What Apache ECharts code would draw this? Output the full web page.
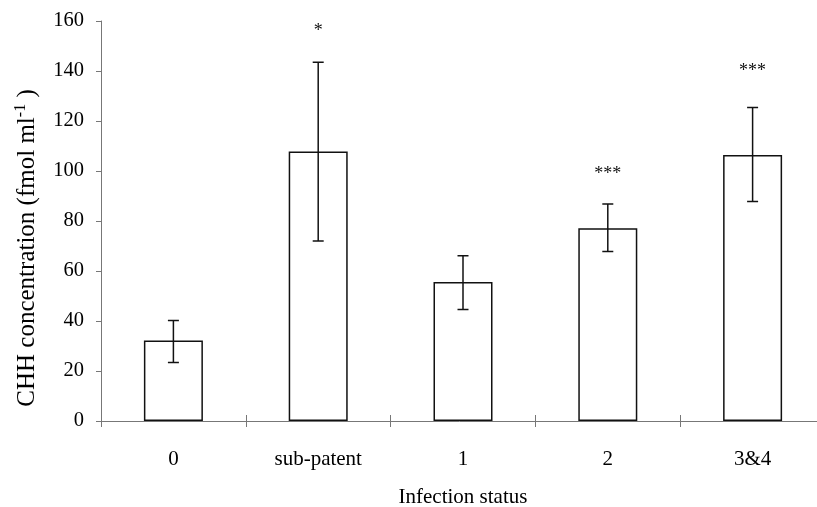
<!DOCTYPE html>
<html>
<head>
<meta charset="utf-8">
<script src="https://cdn.jsdelivr.net/npm/echarts@6/dist/echarts.min.js"></script>
<style>
html, body { margin: 0; padding: 0; background: #fff; }
#chart { width: 817px; height: 507px; }
</style>
</head>
<body>
<div id="chart"></div>
<script type="text/javascript">
// data
var categories = ['0', 'sub-patent', '1', '2', '3&4'];
var means = [32.2, 107.8, 55.6, 77.1, 106.4];
var errUpper = [40.2, 143.5, 66.1, 86.8, 125.4];
var errLower = [23.4, 72, 44.6, 67.8, 87.8];
var stars = ['', '*', '', '***', '***'];
var starLevel = [null, 157, null, 100, 141];

var chart = echarts.init(document.getElementById('chart'));
var serif = 'Liberation Serif';

var errData = [];
for (var i = 0; i < categories.length; i++) {
    errData.push([i, errLower[i], errUpper[i], starLevel[i]]);
}

var option = {
    animation: false,
    backgroundColor: '#fff',
    grid: { left: 101, top: 21, right: -8, bottom: 86, outerBoundsMode: 'none', containLabel: false },
    xAxis: [{
        type: 'category',
        data: categories,
        name: 'Infection status',
        nameLocation: 'middle',
        nameGap: 66,
        nameTextStyle: { fontFamily: serif, fontSize: 21, color: '#000' },
        axisLine: { lineStyle: { color: '#777', width: 1 } },
        axisTick: { show: true, length: 6, lineStyle: { color: '#777' } },
        axisLabel: { fontFamily: serif, fontSize: 21, color: '#000', margin: 28 }
    }, {
        type: 'category',
        data: categories,
        position: 'bottom',
        axisLine: { show: false },
        axisTick: { show: true, inside: true, length: 6, lineStyle: { color: '#777' } },
        axisLabel: { show: false }
    }],
    yAxis: {
        type: 'value',
        min: 0,
        max: 160,
        interval: 20,
        name: '{a|CHH concentration (fmol ml}{s|-1}{a| )}',
        nameLocation: 'middle',
        nameGap: 60,
        nameTextStyle: {
            padding: [0, 54, 0, 0],
            rich: {
                a: { fontFamily: serif, fontSize: 25, color: '#000' },
                s: { fontFamily: serif, fontSize: 16, color: '#000', padding: [0, 0, 12, 0] }
            }
        },
        splitLine: { show: false },
        axisLine: { show: true, lineStyle: { color: '#777', width: 1 } },
        axisTick: { show: true, length: 5, lineStyle: { color: '#777' } },
        axisLabel: { fontFamily: serif, fontSize: 20.5, color: '#000', margin: 17 }
    },
    series: [{
        type: 'bar',
        data: means,
        barWidth: 59,
        itemStyle: { color: '#fff', borderColor: '#111', borderWidth: 1.5 }
    }, {
        type: 'custom',
        data: errData,
        z: 5,
        renderItem: function (params, api) {
            var lo = api.coord([api.value(0), api.value(1)]);
            var hi = api.coord([api.value(0), api.value(2)]);
            var cap = 5.5;
            var st = { stroke: '#111', lineWidth: 1.5 };
            var kids = [
                { type: 'line', shape: { x1: hi[0], y1: hi[1], x2: lo[0], y2: lo[1] }, style: st },
                { type: 'line', shape: { x1: hi[0] - cap, y1: hi[1], x2: hi[0] + cap, y2: hi[1] }, style: st },
                { type: 'line', shape: { x1: lo[0] - cap, y1: lo[1], x2: lo[0] + cap, y2: lo[1] }, style: st }
            ];
            var s = stars[params.dataIndex];
            if (s) {
                var sp = api.coord([api.value(0), starLevel[params.dataIndex]]);
                kids.push({
                    type: 'text',
                    x: sp[0],
                    y: sp[1] + 3,
                    style: { text: s, fontFamily: serif, fontSize: 18, fill: '#111', align: 'center', verticalAlign: 'middle' }
                });
            }
            return { type: 'group', children: kids };
        }
    }]
};

chart.setOption(option);
</script>
</body>
</html>
